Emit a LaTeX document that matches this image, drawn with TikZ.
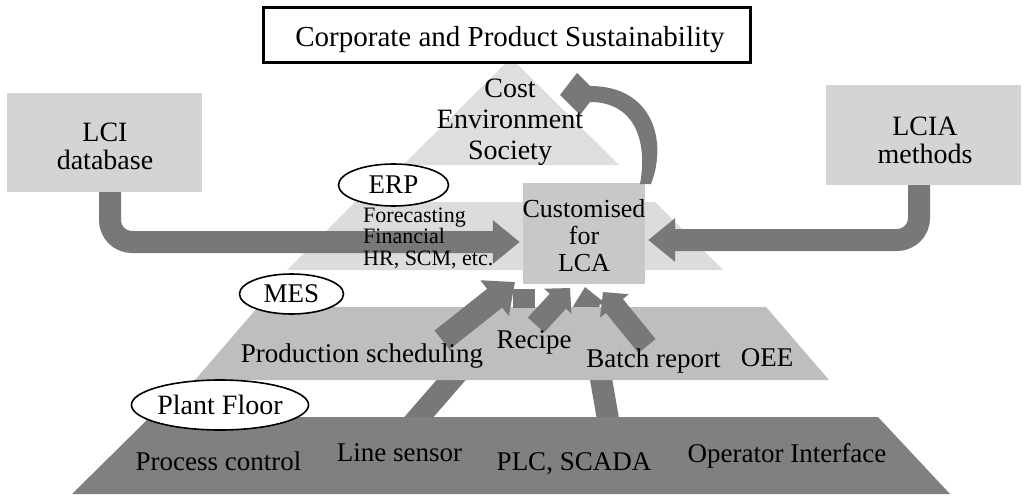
\documentclass[tikz,border=0pt]{standalone}
\usepackage{fontspec}
\setmainfont{Liberation Serif}
\usetikzlibrary{arrows.meta,shapes.geometric}
\definecolor{triC}{RGB}{222,222,222}
\definecolor{erpC}{RGB}{220,220,220}
\definecolor{boxC}{RGB}{212,212,212}
\definecolor{lcaC}{RGB}{200,200,200}
\definecolor{mesC}{RGB}{190,190,190}
\definecolor{plantC}{RGB}{128,128,128}
\definecolor{arrC}{RGB}{120,120,120}
\newcommand\fsz[2]{\fontsize{#1pt}{#2pt}\selectfont}
\begin{document}
\begin{tikzpicture}[x=1pt,y=-1pt,
  lbl/.style={inner sep=0pt, align=center, text=black},
  panel/.style={inner sep=0pt, fill=boxC},
  oval/.style={ellipse, draw=black, line width=1.6pt, fill=white, inner sep=0pt},
  band/.style={draw=arrC, line width=22pt, rounded corners=22pt, -{Triangle[length=27pt,width=42pt]}},
  feed/.style={draw=arrC, line width=22pt, -{Triangle[length=18pt,width=36pt]}},
  shaft/.style={draw=arrC, line width=22pt},
]
\useasboundingbox (0,0) rectangle (1024,503);
\fill[white] (0,0) rectangle (1024,503);

% upper pyramid layers
\fill[triC] (511,58) -- (619,165) -- (403,165) -- cycle;
\fill[erpC] (355,202) -- (655,202) -- (723,270) -- (287,270) -- cycle;

% plant floor arrows (behind MES layer)
\coordinate (lsA) at (412,425);
\coordinate (lsB) at (505,318);
\draw[shaft] (lsA) -- (lsB);
\coordinate (plcA) at (609,425);
\coordinate (plcB) at (585,287);
\draw[feed, -{Triangle[length=20pt,width=34pt]}] (plcA) -- (plcB);

% lower layers
\fill[plantC] (150,417) -- (878,417) -- (950,494) -- (72,494) -- cycle;
\fill[mesC] (258,307) -- (766,307) -- (829,380) -- (195,380) -- cycle;

% MES arrows
\fill[arrC] (513,289) rectangle (535,308);
\coordinate (psA) at (442,340);
\coordinate (psB) at (515,282);
\draw[feed, line width=24pt, -{Triangle[length=26pt,width=44pt]}] (psA) -- (psB);
\coordinate (reA) at (536,325);
\coordinate (reB) at (570,288);
\draw[feed] (reA) -- (reB);
\coordinate (baA) at (647,346);
\coordinate (baB) at (603,292);
\draw[feed] (baA) -- (baB);

% side boxes and central box
\node[panel, minimum width=195pt, minimum height=99pt] (lci) at (104.5,142.5) {};
\node[panel, minimum width=195pt, minimum height=100pt] (lcia) at (923.5,135) {};
\node[inner sep=0pt, fill=lcaC, minimum width=122pt, minimum height=101pt] (lca) at (584,233.5) {};
\draw[band] ([xshift=5.5pt]lci.south) |- ([xshift=-3pt,yshift=-8.5pt]lca.west);
\draw[band] ([xshift=-4.5pt]lcia.south) |- ([xshift=3pt,yshift=-6.5pt]lca.east);

% curved feedback arrow
\fill[arrC] (651,184) .. controls (668,140) and (652,86) .. (590,86) -- (577,73) -- (560,95) -- (580,115) -- (590,102) .. controls (634,102) and (648,140) .. (640,184) -- cycle;

% title
\node[draw=black, line width=3pt, fill=white, minimum width=487pt, minimum height=54pt, inner sep=0pt] (title) at (506.5,35) {};
\node[lbl, font=\fsz{29}{33}] (titletext) at (510,40) {Corporate and Product Sustainability};

% labels
\node[lbl, font=\fsz{28}{31}] (pillars) at (510,122) {Cost\\Environment\\Society};
\node[lbl, font=\fsz{28}{28.5}] (lcitext) at (105,146.5) {LCI\\database};
\node[lbl, font=\fsz{28}{28.5}] (lciatext) at (925,140.5) {LCIA\\methods};
\node[lbl, font=\fsz{26}{27}] (lcatext) at (584,236) {Customised\\for\\LCA};
\node[lbl, align=left, anchor=west, font=\fsz{22}{21.5}] (erpfun) at (363,238) {Forecasting\\Financial\\HR, SCM, etc.};

\node[lbl, font=\fsz{27}{27}] (prod) at (362,356) {Production scheduling};
\node[lbl, font=\fsz{27}{27}] (recipe) at (534,342) {Recipe};
\node[lbl, font=\fsz{27}{27}] (batch) at (653.5,361) {Batch report};
\node[lbl, font=\fsz{27}{27}] (oee) at (767,358) {OEE};

\node[lbl, font=\fsz{27}{27}] (proc) at (218.5,461) {Process control};
\node[lbl, font=\fsz{27}{27}] (lines) at (399.5,453) {Line sensor};
\node[lbl, font=\fsz{27}{27}] (plc) at (574,464) {PLC, SCADA};
\node[lbl, font=\fsz{27}{27}] (opi) at (787,456) {Operator Interface};

% ovals
\node[oval, minimum width=110pt, minimum height=42pt, font=\fsz{27}{27}] (erp) at (393.5,185) {ERP};
\node[oval, minimum width=104pt, minimum height=40pt, font=\fsz{27}{27}] (mes) at (291.5,294) {MES};
\node[oval, minimum width=160pt, minimum height=50pt, font=\fsz{28}{28}] (plant) at (220,405) {Plant Floor};
\end{tikzpicture}
\end{document}
